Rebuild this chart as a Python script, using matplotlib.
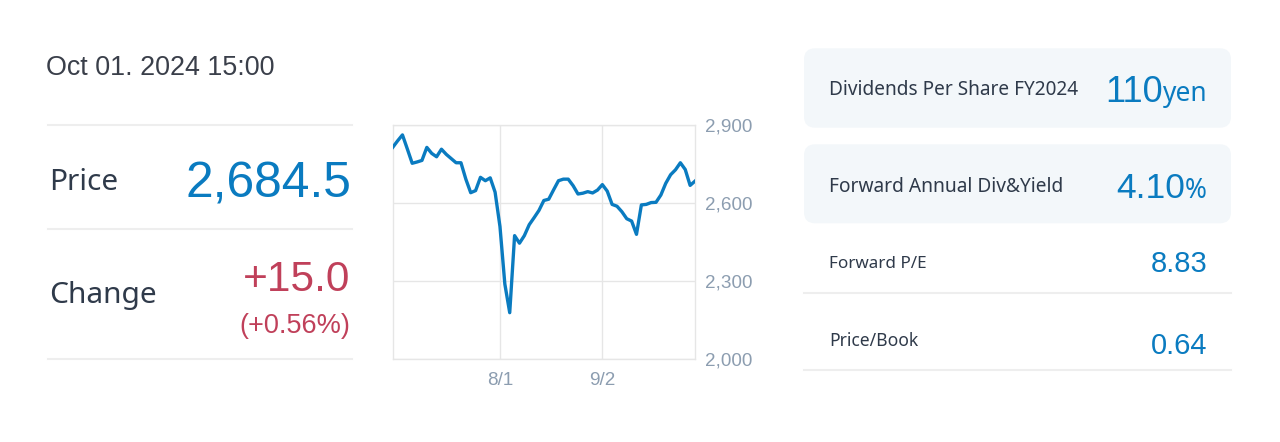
import matplotlib
matplotlib.use("Agg")
import matplotlib.pyplot as plt
from matplotlib.patches import FancyBboxPatch
from matplotlib.transforms import IdentityTransform
from matplotlib.lines import Line2D

# Data
dates = [
    "7/1", "7/2", "7/3", "7/4", "7/5", "7/8", "7/9", "7/10", "7/11", "7/12",
    "7/16", "7/17", "7/18", "7/19", "7/22", "7/23", "7/24", "7/25", "7/26", "7/29",
    "7/30", "7/31",
    "8/1", "8/2", "8/5", "8/6", "8/7", "8/8", "8/9", "8/13", "8/14", "8/15",
    "8/16", "8/19", "8/20", "8/21", "8/22", "8/23", "8/26", "8/27", "8/28", "8/29",
    "8/30",
    "9/2", "9/3", "9/4", "9/5", "9/6", "9/9", "9/10", "9/11", "9/12", "9/13",
    "9/17", "9/18", "9/19", "9/20", "9/24", "9/25", "9/26", "9/27", "9/30",
    "10/1",
]
prices = [
    2814, 2839, 2862, 2808, 2753, 2758, 2764, 2814, 2791, 2778,
    2807, 2787, 2771, 2755, 2755, 2692, 2640, 2648, 2699, 2686,
    2697, 2642,
    2510, 2289, 2179, 2475, 2446, 2475, 2517, 2544, 2572, 2610,
    2615, 2651, 2686, 2692, 2692, 2667, 2635, 2638, 2644, 2639,
    2650,
    2671, 2646, 2595, 2588, 2567, 2540, 2531, 2480, 2593, 2595,
    2602, 2603, 2631, 2676, 2709, 2728, 2755, 2729, 2668, 2684.5,
]
x_tick_labels = ["8/1", "9/2"]
y_ticks = [2000, 2300, 2600, 2900]

quote_time = "Oct 01. 2024 15:00"
price_text = "2,684.5"
change_text = "+15.0"
change_pct_text = "(+0.56%)"

metric_labels = ["Dividends Per Share FY2024", "Forward Annual Div&Yield", "Forward P/E", "Price/Book"]
metric_values = ["110", "4.10", "8.83", "0.64"]
metric_units = ["yen", "%", "", ""]

W, H = 1280, 442
BLUE = "#0a7bc0"
RED = "#c0405a"
DARK = "#2f3a4a"
GREY = "#8c9db0"
LINE = "#eeeeee"
NUM_FONT = ["Liberation Sans", "DejaVu Sans"]
LBL_FONT = ["Noto Sans", "DejaVu Sans"]

fig = plt.figure(figsize=(W / 100, H / 100), dpi=100)
fig.patch.set_facecolor("white")


def fx(x):
    return x / W


def fy(y):
    return 1 - y / H


def hline(x0, x1, y, color=LINE, lw=1.5):
    fig.add_artist(Line2D([fx(x0), fx(x1)], [fy(y), fy(y)], color=color, lw=lw,
                          transform=fig.transFigure))


# left block
fig.text(fx(46), fy(68), quote_time, fontsize=19.4, color="#3a3f4a",
         family=NUM_FONT, va="center", ha="left")
for y in [125, 229, 359]:
    hline(48, 352, y)

fig.text(fx(49), fy(182), "Price", fontsize=21.5, color=DARK, family=LBL_FONT,
         va="center", ha="left")
fig.text(fx(351), fy(198), price_text, fontsize=35.8, color=BLUE, family=NUM_FONT,
         va="baseline", ha="right")
fig.text(fx(49), fy(295), "Change", fontsize=21.5, color=DARK, family=LBL_FONT,
         va="center", ha="left")
fig.text(fx(350), fy(291), change_text, fontsize=30.5, color=RED, family=NUM_FONT,
         va="baseline", ha="right")
fig.text(fx(350), fy(333), change_pct_text, fontsize=19.5, color=RED, family=NUM_FONT,
         va="baseline", ha="right")

# chart
ax_l, ax_r, ax_t, ax_b = 392.7, 695, 125, 359.3
ax = fig.add_axes([fx(ax_l), fy(ax_b), fx(ax_r - ax_l), (ax_b - ax_t) / H])
xs = list(range(len(prices)))
ax.plot(xs, prices, color=BLUE, lw=2.4, solid_joinstyle="round", zorder=3)
ax.set_xlim(0, len(prices) - 1)
ax.set_ylim(y_ticks[0], y_ticks[-1])
ax.set_xticks([dates.index(d) for d in x_tick_labels])
ax.set_xticklabels(x_tick_labels)
ax.set_yticks(y_ticks)
ax.set_yticklabels([f"{v:,}" for v in y_ticks])
ax.yaxis.tick_right()
ax.tick_params(length=0, labelsize=13.6, labelcolor=GREY)
ax.tick_params(axis="y", pad=7)
ax.tick_params(axis="x", pad=9)
for lab in ax.get_xticklabels() + ax.get_yticklabels():
    lab.set_family(NUM_FONT)
ax.grid(True, color="#e6e6e6", lw=1)
for s in ax.spines.values():
    s.set_color("#e6e6e6")
    s.set_linewidth(1)
ax.set_axisbelow(True)

# right block
boxes = [(48.3, 127.7), (144.3, 223.3)]
for top, bot in boxes:
    fig.add_artist(FancyBboxPatch((804, H - bot), 1231 - 804, bot - top,
                                  boxstyle="round,pad=0,rounding_size=11",
                                  transform=IdentityTransform(),
                                  facecolor="#f3f7fa", edgecolor="none"))
hline(804, 1231, 293.3)
hline(804, 1231, 370)

label_y = [90, 186.5, 264, 341]
label_size = [13.7, 13.8, 12.3, 12.6]
value_base = [101.5, 198.5, 272.5, 353.5]
value_size = [26, 25.5, 21, 21]
unit_size = [19, 19, 0, 0]

fig.canvas.draw()
renderer = fig.canvas.get_renderer()
right_edge = 1207
for i, lbl in enumerate(metric_labels):
    fig.text(fx(829), fy(label_y[i]), lbl, fontsize=label_size[i], color=DARK,
             family=LBL_FONT, va="center", ha="left")
    x_val = right_edge
    if metric_units[i]:
        t = fig.text(fx(right_edge), fy(value_base[i]), metric_units[i],
                     fontsize=unit_size[i], color=BLUE, family=LBL_FONT,
                     va="baseline", ha="right")
        x_val = right_edge - t.get_window_extent(renderer).width
    fig.text(fx(x_val), fy(value_base[i]), metric_values[i], fontsize=value_size[i],
             color=BLUE, family=NUM_FONT, va="baseline", ha="right")

fig.savefig("out.png", dpi=100, facecolor="white")
